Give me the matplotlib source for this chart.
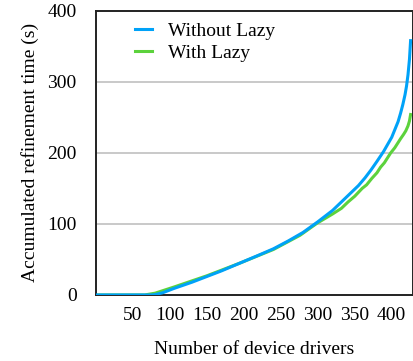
import matplotlib
matplotlib.use('Agg')
from matplotlib import pyplot as plt

# Accumulated refinement time
blue_x = [0, 75, 80, 90, 105, 130, 150, 170, 195, 220, 240, 260, 280, 300,
          320, 341, 355, 364, 372, 380, 389, 400, 408.6, 412, 415, 418, 420,
          422, 424, 425.5]
blue_y = [0, 0, 0.5, 3, 9, 18, 26, 34, 45, 56, 65, 76, 88, 103,
          119, 140, 154, 165, 176, 188, 202, 222, 244, 256, 268, 282, 294,
          310, 332, 358]

green_x = [0, 66, 80, 105, 150, 195, 240, 276, 299, 320, 332, 341, 350,
           360, 366, 373, 380, 385, 390, 398.6, 404, 412, 416, 419, 422, 424, 425.5]
green_y = [0, 0, 2.5, 11, 27, 45, 64, 84, 101, 114, 122, 131, 139,
           150, 155, 164, 172, 180, 186, 200, 207, 220, 226, 231, 238, 245, 254]

xticks = [50, 100, 150, 200, 250, 300, 350, 400]
yticks = [0, 100, 200, 300, 400]

plt.rcParams['font.family'] = 'Liberation Serif'
plt.rcParams['font.size'] = 14

fig = plt.figure(figsize=(4.14, 3.61), dpi=100)
ax = fig.add_axes([0.232, 0.183, 0.766, 0.787])

# Horizontal grid lines
for y in yticks[1:-1]:
    ax.axhline(y, color='#c0c0c0', lw=1.2, zorder=0)

ax.plot(green_x, green_y, color='#5cd23c', lw=2.2, label='With Lazy', zorder=2)
ax.plot(blue_x, blue_y, color='#00a2f8', lw=2.2, label='Without Lazy', zorder=3)

ax.set_xlim(0, 429)
ax.set_ylim(0, 400)
ax.set_xticks(xticks)
ax.set_yticks(yticks)
ax.tick_params(axis='x', length=0, pad=9)
ax.tick_params(axis='y', length=0, pad=14)
for s in ax.spines.values():
    s.set_color('#222222')
    s.set_linewidth(1.4)

ax.set_xlabel('Number of device drivers', labelpad=12)
ax.set_ylabel('Accumulated refinement time (s)', labelpad=6)

h, l = ax.get_legend_handles_labels()
ax.legend(h[::-1], l[::-1], loc='upper left', bbox_to_anchor=(0.123, 0.961),
          frameon=False, borderpad=0, borderaxespad=0, handlelength=0.85,
          handletextpad=0.85, labelspacing=0.25)

fig.savefig('out.png', dpi=100)
